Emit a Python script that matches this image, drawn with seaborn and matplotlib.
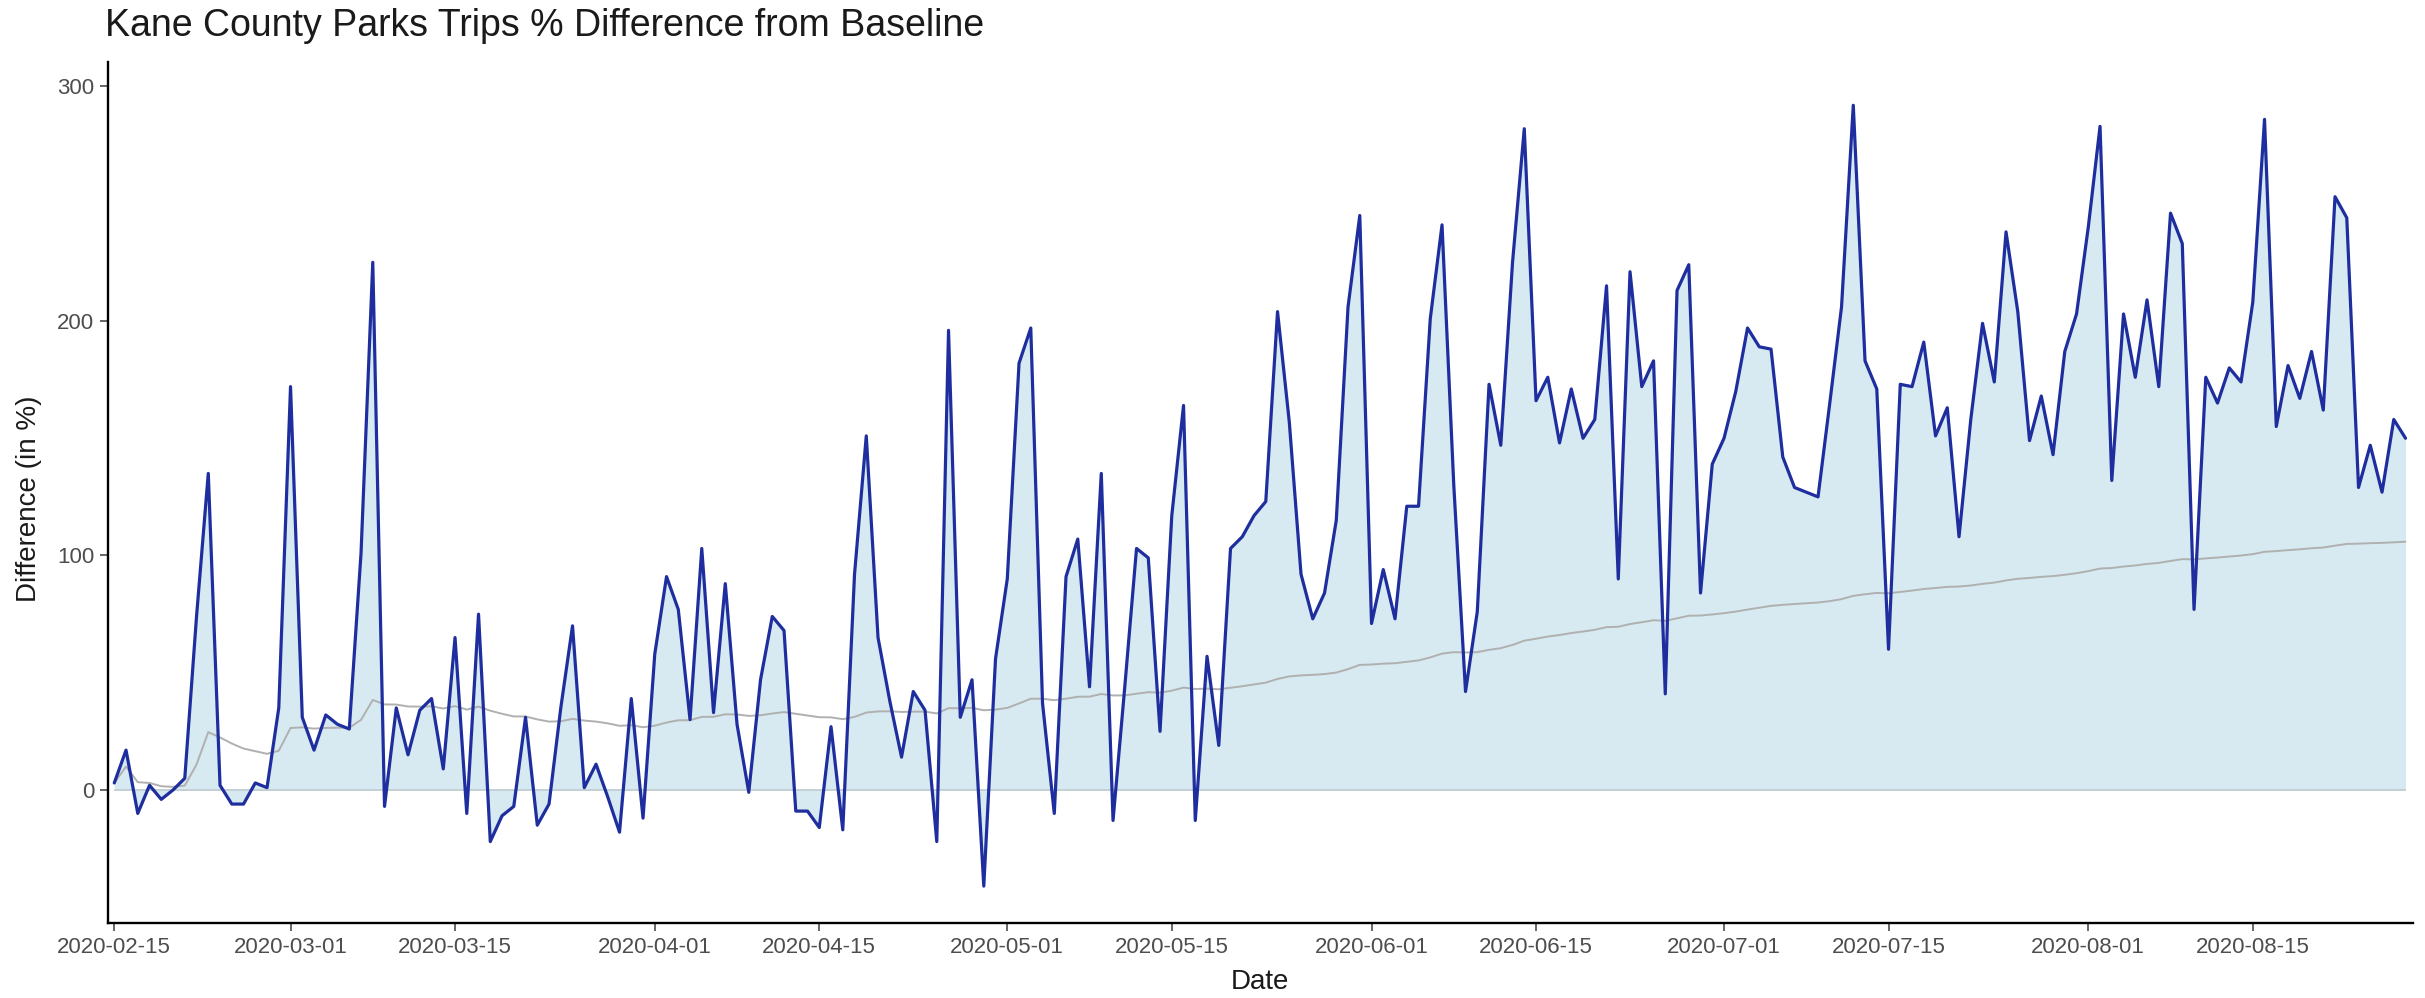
import numpy as np
import pandas as pd
import matplotlib
matplotlib.use("Agg")
import matplotlib.pyplot as plt
import seaborn as sns

start_date = "2020-02-15"
diff_pct = [
    3, 17, -10, 2, -4, 0, 5, 74, 135, 2,
    -6, -6, 3, 1, 35, 172, 31, 17, 32, 28,
    26, 101, 225, -7, 35, 15, 34, 39, 9, 65,
    -10, 75, -22, -11, -7, 31, -15, -6, 35, 70,
    1, 11, -3, -18, 39, -12, 58, 91, 77, 30,
    103, 33, 88, 28, -1, 47, 74, 68, -9, -9,
    -16, 27, -17, 92, 151, 65, 38, 14, 42, 34,
    -22, 196, 31, 47, -41, 56, 90, 182, 197, 37,
    -10, 91, 107, 44, 135, -13, 44, 103, 99, 25,
    117, 164, -13, 57, 19, 103, 108, 117, 123, 204,
    157, 92, 73, 84, 115, 206, 245, 71, 94, 73,
    121, 121, 201, 241, 130, 42, 76, 173, 147, 225,
    282, 166, 176, 148, 171, 150, 158, 215, 90, 221,
    172, 183, 41, 213, 224, 84, 139, 150, 170, 197,
    189, 188, 142, 129, 127, 125, 165, 206, 292, 183,
    171, 60, 173, 172, 191, 151, 163, 108, 158, 199,
    174, 238, 204, 149, 168, 143, 187, 203, 240, 283,
    132, 203, 176, 209, 172, 246, 233, 77, 176, 165,
    180, 174, 208, 286, 155, 181, 167, 187, 162, 253,
    244, 129, 147, 127, 158, 150,
]
x_tick_labels = ["2020-02-15", "2020-03-01", "2020-03-15", "2020-04-01",
                 "2020-04-15", "2020-05-01", "2020-05-15", "2020-06-01",
                 "2020-06-15", "2020-07-01", "2020-07-15", "2020-08-01",
                 "2020-08-15"]
y_ticks = [0, 100, 200, 300]

title = "Kane County Parks Trips % Difference from Baseline"
x_label = "Date"
y_label = "Difference (in %)"

dates = pd.date_range(start_date, periods=len(diff_pct), freq="D")
df = pd.DataFrame({"date": dates, "diff": diff_pct})
df["cum_mean"] = df["diff"].expanding().mean()

sns.set_theme(style="ticks")
plt.rcParams["font.family"] = ["Liberation Sans", "DejaVu Sans"]

fig = plt.figure(figsize=(24.25, 9.98), dpi=100)
ax = fig.add_axes([0.0445, 0.0752, 0.9505, 0.8628])

ax.fill_between(df["date"], 0, df["diff"], color="#d7eaf1", lw=0, zorder=1)
ax.hlines(0, df["date"].iloc[0], df["date"].iloc[-1], color="#c3d0d6", lw=1.4, zorder=1.5)
sns.lineplot(data=df, x="date", y="cum_mean", color="#b0b0b0", lw=1.4, ax=ax, zorder=2)
sns.lineplot(data=df, x="date", y="diff", color="#1f2e9e", lw=2.3, ax=ax, zorder=3)

ax.set_xlim(df["date"].iloc[0] - pd.Timedelta(hours=13),
            df["date"].iloc[-1] + pd.Timedelta(hours=15))
ax.set_ylim(-56.7, 310.5)

ax.set_xticks(pd.to_datetime(x_tick_labels))
ax.set_xticklabels(x_tick_labels)
ax.set_yticks(y_ticks)
ax.set_yticklabels([str(v) for v in y_ticks])
ax.tick_params(axis="both", labelsize=16, colors="#4d4d4d", length=6, width=1.2,
               labelcolor="#4d4d4d", pad=4)

for side in ["top", "right"]:
    ax.spines[side].set_visible(False)
for side in ["left", "bottom"]:
    ax.spines[side].set_color("black")
    ax.spines[side].set_linewidth(1.7)

ax.set_xlabel("")
ax.set_ylabel("")
fig.text(0.0433, 0.974, title, fontsize=27, ha="left", va="center", color="#1a1a1a")
fig.text(0.5195, 0.016, x_label, fontsize=20, ha="center", va="center", color="#1a1a1a")
fig.text(0.012, 0.5, y_label, fontsize=20, ha="center", va="center",
         rotation=90, color="#1a1a1a")

fig.savefig("out.png", dpi=100)
